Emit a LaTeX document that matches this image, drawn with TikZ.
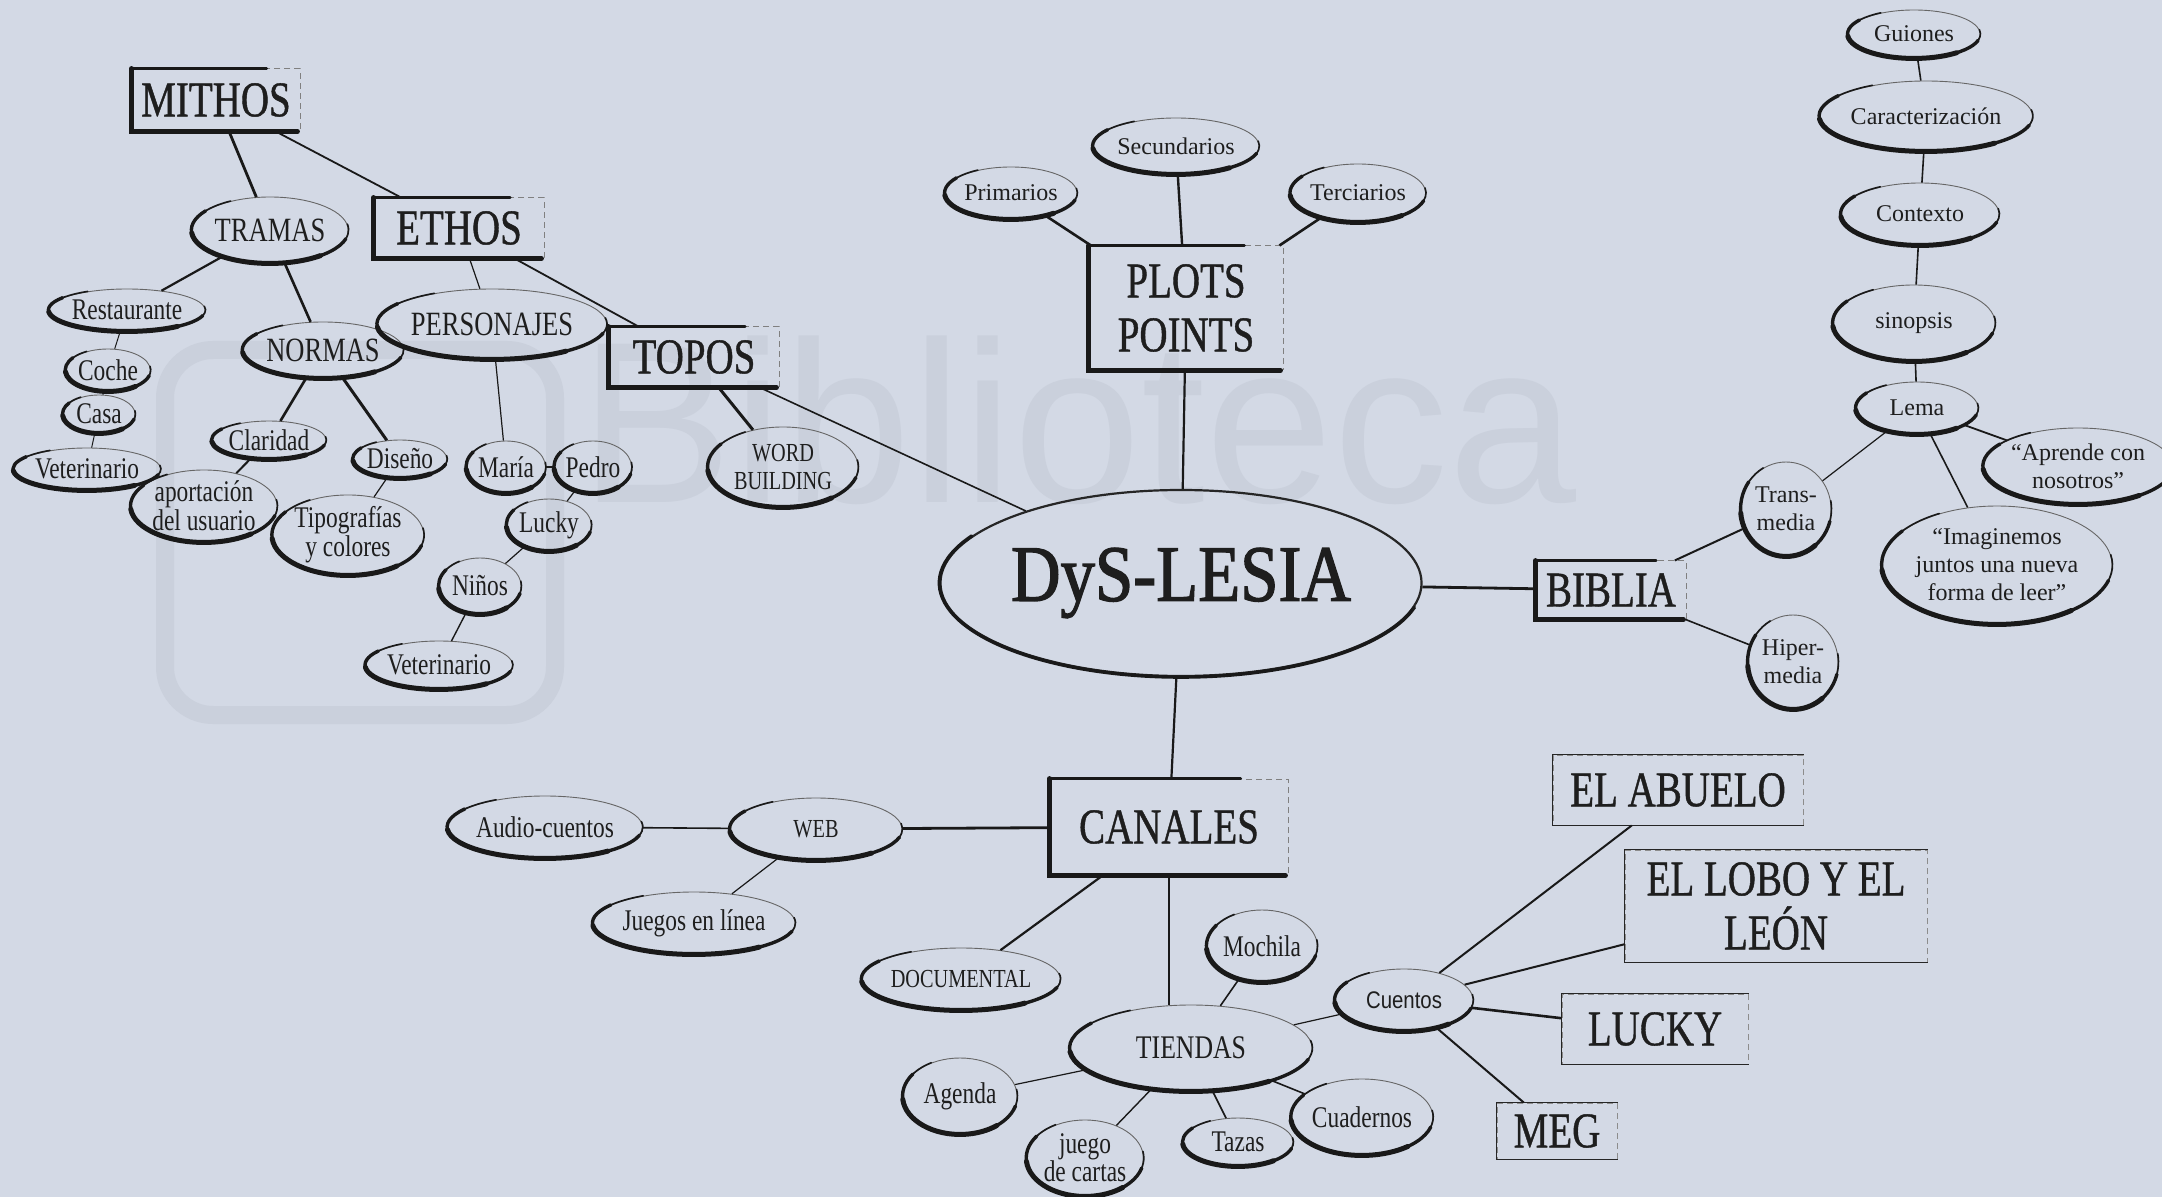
\documentclass[tikz,border=0pt]{standalone}
\usepackage{fontspec}
\setmainfont{Liberation Serif}
\newfontfamily\cnd[FakeStretch=0.78]{Liberation Serif}
\newfontfamily\cndb[FakeStretch=0.78,FakeBold=0.8]{Liberation Serif}
\newfontfamily\cndsans[FakeStretch=0.85]{Liberation Sans}
\newfontfamily\dysf[FakeStretch=0.86,FakeBold=1.6]{Liberation Serif}
\newfontfamily\wmf{Liberation Sans}
\usetikzlibrary{shapes.geometric,calc}
\definecolor{bg}{RGB}{211,217,229}
\definecolor{wm}{RGB}{202,208,220}
\definecolor{txt}{RGB}{30,30,30}
\newcommand\skell[1]{%
  \edef\skname{#1}%
  \draw[line width=0.8pt,line cap=round,draw=black!90] let \p1=($(\skname.east)-(\skname.center)$), \p2=($(\skname.north)-(\skname.center)$) in
    (\skname.center) ++(120:\x1 and \y2) arc[start angle=120,end angle=370,x radius=\x1,y radius=\y2];
  \draw[line width=1.7pt,line cap=round,draw=black!90] let \p1=($(\skname.east)-(\skname.center)$), \p2=($(\skname.north)-(\skname.center)$) in
    (\skname.center) ++(145:\x1 and \y2) arc[start angle=145,end angle=345,x radius=\x1,y radius=\y2];
  \draw[line width=2.5pt,line cap=round,draw=black!90] let \p1=($(\skname.east)-(\skname.center)$), \p2=($(\skname.north)-(\skname.center)$) in
    (\skname.center) ++(185:\x1 and \y2) arc[start angle=185,end angle=310,x radius=\x1,y radius=\y2];
}
\newcommand\skbox[1]{%
  \draw[line width=2.4pt,line cap=round,draw=black!90] (#1.north west) -- (#1.south west) -- ($(#1.south east)+(-3,0)$);
  \draw[line width=1.4pt,line cap=round,draw=black!90] (#1.north west) -- ($(#1.north west)!0.8!(#1.north east)$);
}
\newcommand\skstory[1]{%
  \draw[line width=0.9pt,draw=black!85] (#1.north east) -- (#1.north west) -- (#1.south west) -- (#1.south east);
}
\tikzset{
  ov/.style 2 args={ellipse, draw=black!60, line width=0.45pt, minimum width=#1pt, minimum height=#2pt, inner sep=0pt, align=center, text=txt},
  bx/.style 2 args={rectangle, draw=black!50, densely dashed, line width=0.5pt, minimum width=#1pt, minimum height=#2pt, inner sep=0pt, align=center, text=txt},
  sb/.style 2 args={rectangle, draw=black!45, densely dashed, line width=0.5pt, minimum width=#1pt, minimum height=#2pt, inner sep=0pt, align=center, text=txt},
  fA/.style={font=\cndb\fontsize{25}{27}\selectfont},
  fB/.style={font=\cnd\fontsize{17}{17}\selectfont},
  fC/.style={font=\cnd\fontsize{15}{14.5}\selectfont},
  fD/.style={font=\fontsize{12}{14}\selectfont},
  fE/.style={font=\cnd\fontsize{13}{14}\selectfont},
  fF/.style={font=\cnd\fontsize{15}{14}\selectfont},
  lk/.style={line width=#1pt, draw=black!90},
  lk/.default=0.8
}
\begin{document}
\begin{tikzpicture}[x=0.5pt,y=-0.5pt]
\fill[bg] (0,0) rectangle (2162,1197);
\useasboundingbox (0,0) rectangle (2162,1197);
% faint watermark
\draw[wm, line width=9pt, rounded corners=24pt] (165,350) rectangle (555,715);
\node[anchor=base west, text=wm, inner sep=0pt, font=\wmf\fontsize{115}{115}\selectfont] (wmk) at (579,503) {Biblioteca};

% boxes
\node[bx={84}{31},fA] (mithos) at (216,100) {MITHOS};
\node[bx={85}{30},fA] (ethos) at (459,228) {ETHOS};
\node[bx={85}{30},fA] (topos) at (694,357) {TOPOS};
\node[bx={97}{62},fA] (plots) at (1186,308) {PLOTS\\POINTS};
\node[bx={119}{48},fA] (canales) at (1169,827) {CANALES};
\node[bx={75}{29},fA] (biblia) at (1611,590) {BIBLIA};
\node[sb={125}{35},fA] (abuelo) at (1678,790) {EL ABUELO};
\node[sb={151}{56},fA] (lobo) at (1776,906) {EL LOBO Y EL\\LEÓN};
\node[sb={93}{35},fA] (luckyb) at (1655,1029) {LUCKY};
\node[sb={60}{28},fA] (meg) at (1557,1131) {MEG};

% left cluster
\node[ov={69}{33},fB] (tramas) at (270,230) {TRAMAS};
\node[ov={75}{21},fC] (restaurante) at (127,310) {Restaurante};
\node[ov={76}{28},fB] (normas) at (323,350) {NORMAS};
\node[ov={97}{35},fB] (personajes) at (492,324) {PERSONAJES};
\node[ov={38}{21},fC] (coche) at (108,370) {Coche};
\node[ov={36}{19},fC] (casa) at (99,414) {Casa};
\node[ov={69}{21},fC] (vet1) at (87,469) {Veterinario};
\node[ov={48}{19},fC] (claridad) at (269,440) {Claridad};
\node[ov={43}{19},fC] (diseno) at (400,459) {Diseño};
\node[ov={64}{36},fC] (aport) at (204,506) {aportación\\del usuario};
\node[ov={69}{38},fC] (tipo) at (348,535) {Tipografías\\y colores};
\node[ov={38}{26},fC] (maria) at (506,467) {María};
\node[ov={38}{26},fC] (pedro) at (593,467) {Pedro};
\node[ov={40}{26},fC] (lucky) at (549,525) {Lucky};
\node[ov={41}{28},fC] (ninos) at (480,586) {Niños};
\node[ov={59}{24},fC] (vet2) at (439,665) {Veterinario};
\node[ov={75}{40},fE] (word) at (783,467) {WORD\\BUILDING};

% plots
\node[ov={62}{26},fD] (prim) at (1011,193) {Primarios};
\node[ov={72}{28},fD] (secu) at (1176,146) {Secundarios};
\node[ov={63}{29},fD] (terc) at (1358,193) {Terciarios};

% center
\node[ellipse, draw=black!85, line width=1.1pt, minimum width=239pt, minimum height=93pt, inner sep=0pt, text=txt, font=\dysf\fontsize{40}{40}\selectfont] (dys) at (1181,583) {DyS-LESIA};

% right column
\node[ov={45}{47},fD] (trans) at (1786,509) {Trans-\\media};
\node[ov={45}{47},fD] (hiper) at (1793,662) {Hiper-\\media};
\node[ov={66}{24},fD] (guiones) at (1914,34) {Guiones};
\node[ov={95}{35},fD] (caract) at (1926,116) {Caracterización};
\node[ov={79}{31},fD] (contexto) at (1920,214) {Contexto};
\node[ov={81}{38},fD] (sinopsis) at (1914,323) {sinopsis};
\node[ov={61}{26},fD] (lema) at (1917,408) {Lema};
\node[ov={81}{38},fD] (aprende) at (2078,466) {“Aprende con\\nosotros”};
\node[ov={88}{59},fD] (imagin) at (1997,565) {“Imaginemos\\juntos una nueva\\forma de leer”};

% canales cluster
\node[ov={86}{31},fE] (web) at (816,829) {WEB};
\node[ov={79}{31},fF] (audio) at (545,827) {Audio-cuentos};
\node[ov={86}{31},fF] (juegos) at (694,923) {Juegos en línea};
\node[ov={86}{31},fE] (docu) at (961,979) {DOCUMENTAL};
\node[ov={121}{43},font=\cnd\fontsize{16.5}{16}\selectfont] (tiendas) at (1191,1048) {TIENDAS};
\node[ov={48}{36},fF] (mochila) at (1262,946) {Mochila};
\node[ov={57}{38},fF] (agenda) at (960,1096) {Agenda};
\node[ov={57}{38},fF] (juego) at (1085,1158) {juego\\de cartas};
\node[ov={55}{24},fF] (tazas) at (1238,1142) {Tazas};
\node[ov={59}{38},fF] (cuadernos) at (1362,1117) {Cuadernos};
\node[ov={69}{31},font=\cndsans\fontsize{12}{12}\selectfont] (cuentos) at (1404,1000) {Cuentos};

% sketchy outlines
\foreach \nd in {mithos,ethos,topos,plots,canales,biblia} {\skbox{\nd}}
\foreach \nd in {abuelo,lobo,luckyb,meg} {\skstory{\nd}}
\foreach \nd in {tramas,restaurante,normas,personajes,coche,casa,vet1,claridad,diseno,aport,tipo,maria,pedro,lucky,ninos,vet2,word,prim,secu,terc,trans,hiper,guiones,caract,contexto,sinopsis,lema,aprende,imagin,web,audio,juegos,docu,tiendas,mochila,agenda,juego,tazas,cuadernos,cuentos} {\skell{\nd}}
\draw[line width=1.7pt,line cap=round,draw=black!90] let \p1=($(dys.east)-(dys.center)$), \p2=($(dys.north)-(dys.center)$) in
    (dys.center) ++(150:\x1 and \y2) arc[start angle=150,end angle=345,x radius=\x1,y radius=\y2];

% connectors
\draw[lk=1.4] (mithos) -- (tramas);
\draw[lk=0.9] (mithos) -- (ethos);
\draw[lk=1.1] (tramas) -- (restaurante);
\draw[lk=1.3] (tramas) -- (normas);
\draw[lk=0.5] (restaurante) -- (coche);
\draw[lk=0.5] (coche) -- (casa);
\draw[lk=0.5] (casa) -- (vet1);
\draw[lk=1.3] (normas) -- (claridad);
\draw[lk=1.5] (normas) -- (diseno);
\draw[lk=1.0] (claridad) -- (aport);
\draw[lk=0.6] (diseno) -- (tipo);
\draw[lk=0.6] (ethos) -- (personajes);
\draw[lk=0.9] (ethos) -- (topos);
\draw[lk=0.6] (personajes) -- (maria);
\draw[lk=0.8] (maria) -- (pedro);
\draw[lk=0.6] (pedro) -- (lucky);
\draw[lk=0.6] (lucky) -- (ninos);
\draw[lk=0.7] (ninos) -- (vet2);
\draw[lk=1.5] (topos) -- (word);
\draw[lk=0.8] (topos) -- (dys);
\draw[lk=1.3] (plots) -- (prim);
\draw[lk=1.2] (plots) -- (secu);
\draw[lk=1.3] (plots) -- (terc);
\draw[lk=1.1] (plots) -- (dys);
\draw[lk=1.4] (dys) -- (biblia);
\draw[lk=1.0] (biblia) -- (trans);
\draw[lk=0.8] (biblia) -- (hiper);
\draw[lk=0.6] (trans) -- (lema);
\draw[lk=0.8] (lema) -- (sinopsis);
\draw[lk=0.8] (sinopsis) -- (contexto);
\draw[lk=0.8] (contexto) -- (caract);
\draw[lk=0.8] (caract) -- (guiones);
\draw[lk=0.9] (lema) -- (aprende);
\draw[lk=0.8] (lema) -- (imagin);
\draw[lk=1.1] (dys) -- (canales);
\draw[lk=1.4] (canales) -- (web);
\draw[lk=1.1] (canales) -- (docu);
\draw[lk=1.0] (canales) -- (canales |- tiendas.north);
\draw[lk=0.8] (web) -- (audio);
\draw[lk=0.6] (web) -- (juegos);
\draw[lk=0.8] (tiendas) -- (mochila);
\draw[lk=0.6] (tiendas) -- (agenda);
\draw[lk=0.7] (tiendas) -- (juego);
\draw[lk=0.8] (tiendas) -- (tazas);
\draw[lk=0.8] (tiendas) -- (cuadernos);
\draw[lk=0.6] (tiendas) -- (cuentos);
\draw[lk=1.0] (cuentos) -- (abuelo);
\draw[lk=1.0] (cuentos) -- (lobo);
\draw[lk=1.3] (cuentos) -- (luckyb);
\draw[lk=1.0] (cuentos) -- (meg);
\end{tikzpicture}
\end{document}
